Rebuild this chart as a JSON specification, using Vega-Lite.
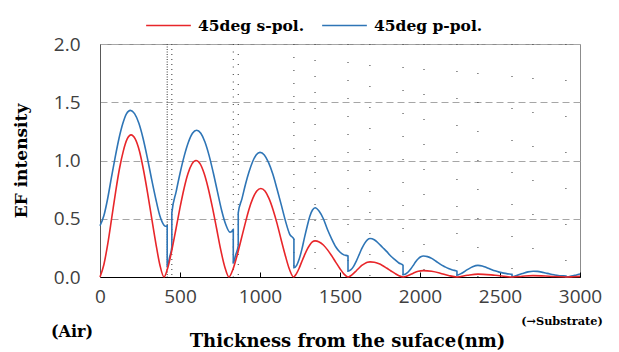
{
  "$schema": "https://vega.github.io/schema/vega-lite/v6.json",
  "width": 480,
  "height": 233,
  "autosize": {"type": "none"},
  "padding": {"left": 100, "top": 44, "right": 39, "bottom": 75},
  "background": "white",
  "config": {
    "view": {"stroke": "#8c8c8c", "strokeWidth": 1},
    "axis": {"labelFont": "Open Sans", "labelFontSize": 19, "labelColor": "#404040", "titleFont": "DejaVu Serif", "titleFontWeight": "bold", "titleColor": "#000"}
  },
  "datasets": {
    "bounds": [
      {"k": 1, "x": 420}, {"k": 2, "x": 449}, {"k": 3, "x": 833}, {"k": 4, "x": 864},
      {"k": 5, "x": 1212}, {"k": 6, "x": 1344}, {"k": 7, "x": 1550}, {"k": 8, "x": 1687},
      {"k": 9, "x": 1894}, {"k": 10, "x": 2025}, {"k": 11, "x": 2231}, {"k": 12, "x": 2362},
      {"k": 13, "x": 2575}, {"k": 14, "x": 2706}, {"k": 15, "x": 2912}
    ],
    "curves": [
      {"s": "45deg p-pol.", "x": 0, "y": 0.44}, {"s": "45deg p-pol.", "x": 24, "y": 0.525}, {"s": "45deg p-pol.", "x": 48, "y": 0.674}, {"s": "45deg p-pol.", "x": 71, "y": 0.85}, {"s": "45deg p-pol.", "x": 95, "y": 1.029}, {"s": "45deg p-pol.", "x": 119, "y": 1.191}, {"s": "45deg p-pol.", "x": 143, "y": 1.319}, {"s": "45deg p-pol.", "x": 166, "y": 1.402}, {"s": "45deg p-pol.", "x": 190, "y": 1.43}, {"s": "45deg p-pol.", "x": 216, "y": 1.402}, {"s": "45deg p-pol.", "x": 243, "y": 1.319}, {"s": "45deg p-pol.", "x": 269, "y": 1.191}, {"s": "45deg p-pol.", "x": 295, "y": 1.029}, {"s": "45deg p-pol.", "x": 321, "y": 0.85}, {"s": "45deg p-pol.", "x": 348, "y": 0.674}, {"s": "45deg p-pol.", "x": 374, "y": 0.525}, {"s": "45deg p-pol.", "x": 400, "y": 0.445}, {"s": "45deg p-pol.", "x": 410, "y": 0.435}, {"s": "45deg p-pol.", "x": 420, "y": 0.44},
      {"s": "45deg p-pol.", "x": 420, "y": 0.09}, {"s": "45deg p-pol.", "x": 435, "y": 0.17}, {"s": "45deg p-pol.", "x": 449, "y": 0.26}, {"s": "45deg p-pol.", "x": 449, "y": 0.55},
      {"s": "45deg p-pol.", "x": 476, "y": 0.733}, {"s": "45deg p-pol.", "x": 501, "y": 0.895}, {"s": "45deg p-pol.", "x": 527, "y": 1.042}, {"s": "45deg p-pol.", "x": 553, "y": 1.159}, {"s": "45deg p-pol.", "x": 578, "y": 1.234}, {"s": "45deg p-pol.", "x": 604, "y": 1.26}, {"s": "45deg p-pol.", "x": 630, "y": 1.234}, {"s": "45deg p-pol.", "x": 656, "y": 1.159}, {"s": "45deg p-pol.", "x": 682, "y": 1.042}, {"s": "45deg p-pol.", "x": 708, "y": 0.895}, {"s": "45deg p-pol.", "x": 734, "y": 0.733}, {"s": "45deg p-pol.", "x": 760, "y": 0.573}, {"s": "45deg p-pol.", "x": 786, "y": 0.45}, {"s": "45deg p-pol.", "x": 812, "y": 0.385}, {"s": "45deg p-pol.", "x": 823, "y": 0.39}, {"s": "45deg p-pol.", "x": 833, "y": 0.41},
      {"s": "45deg p-pol.", "x": 833, "y": 0.12}, {"s": "45deg p-pol.", "x": 848, "y": 0.19}, {"s": "45deg p-pol.", "x": 864, "y": 0.27}, {"s": "45deg p-pol.", "x": 864, "y": 0.55},
      {"s": "45deg p-pol.", "x": 887, "y": 0.671}, {"s": "45deg p-pol.", "x": 909, "y": 0.794}, {"s": "45deg p-pol.", "x": 932, "y": 0.905}, {"s": "45deg p-pol.", "x": 955, "y": 0.994}, {"s": "45deg p-pol.", "x": 977, "y": 1.05}, {"s": "45deg p-pol.", "x": 1000, "y": 1.07}, {"s": "45deg p-pol.", "x": 1027, "y": 1.048}, {"s": "45deg p-pol.", "x": 1053, "y": 0.984}, {"s": "45deg p-pol.", "x": 1080, "y": 0.884}, {"s": "45deg p-pol.", "x": 1106, "y": 0.758}, {"s": "45deg p-pol.", "x": 1133, "y": 0.619}, {"s": "45deg p-pol.", "x": 1159, "y": 0.482}, {"s": "45deg p-pol.", "x": 1186, "y": 0.366}, {"s": "45deg p-pol.", "x": 1212, "y": 0.325},
      {"s": "45deg p-pol.", "x": 1212, "y": 0.08}, {"s": "45deg p-pol.", "x": 1229, "y": 0.1}, {"s": "45deg p-pol.", "x": 1245, "y": 0.155}, {"s": "45deg p-pol.", "x": 1262, "y": 0.239}, {"s": "45deg p-pol.", "x": 1278, "y": 0.338}, {"s": "45deg p-pol.", "x": 1295, "y": 0.436}, {"s": "45deg p-pol.", "x": 1311, "y": 0.52}, {"s": "45deg p-pol.", "x": 1328, "y": 0.575}, {"s": "45deg p-pol.", "x": 1344, "y": 0.595}, {"s": "45deg p-pol.", "x": 1370, "y": 0.565}, {"s": "45deg p-pol.", "x": 1396, "y": 0.5}, {"s": "45deg p-pol.", "x": 1421, "y": 0.41}, {"s": "45deg p-pol.", "x": 1447, "y": 0.33}, {"s": "45deg p-pol.", "x": 1473, "y": 0.26}, {"s": "45deg p-pol.", "x": 1499, "y": 0.215}, {"s": "45deg p-pol.", "x": 1524, "y": 0.19}, {"s": "45deg p-pol.", "x": 1550, "y": 0.18},
      {"s": "45deg p-pol.", "x": 1550, "y": 0.05}, {"s": "45deg p-pol.", "x": 1567, "y": 0.061}, {"s": "45deg p-pol.", "x": 1585, "y": 0.091}, {"s": "45deg p-pol.", "x": 1602, "y": 0.137}, {"s": "45deg p-pol.", "x": 1619, "y": 0.19}, {"s": "45deg p-pol.", "x": 1636, "y": 0.243}, {"s": "45deg p-pol.", "x": 1654, "y": 0.289}, {"s": "45deg p-pol.", "x": 1671, "y": 0.319}, {"s": "45deg p-pol.", "x": 1688, "y": 0.33}, {"s": "45deg p-pol.", "x": 1714, "y": 0.32}, {"s": "45deg p-pol.", "x": 1740, "y": 0.29}, {"s": "45deg p-pol.", "x": 1765, "y": 0.255}, {"s": "45deg p-pol.", "x": 1791, "y": 0.22}, {"s": "45deg p-pol.", "x": 1817, "y": 0.18}, {"s": "45deg p-pol.", "x": 1843, "y": 0.15}, {"s": "45deg p-pol.", "x": 1868, "y": 0.12}, {"s": "45deg p-pol.", "x": 1894, "y": 0.1},
      {"s": "45deg p-pol.", "x": 1894, "y": 0.02}, {"s": "45deg p-pol.", "x": 1910, "y": 0.026}, {"s": "45deg p-pol.", "x": 1926, "y": 0.043}, {"s": "45deg p-pol.", "x": 1942, "y": 0.069}, {"s": "45deg p-pol.", "x": 1958, "y": 0.1}, {"s": "45deg p-pol.", "x": 1973, "y": 0.131}, {"s": "45deg p-pol.", "x": 1989, "y": 0.157}, {"s": "45deg p-pol.", "x": 2005, "y": 0.174}, {"s": "45deg p-pol.", "x": 2021, "y": 0.18}, {"s": "45deg p-pol.", "x": 2047, "y": 0.175}, {"s": "45deg p-pol.", "x": 2073, "y": 0.16}, {"s": "45deg p-pol.", "x": 2100, "y": 0.135}, {"s": "45deg p-pol.", "x": 2126, "y": 0.11}, {"s": "45deg p-pol.", "x": 2152, "y": 0.09}, {"s": "45deg p-pol.", "x": 2178, "y": 0.072}, {"s": "45deg p-pol.", "x": 2205, "y": 0.06}, {"s": "45deg p-pol.", "x": 2231, "y": 0.05},
      {"s": "45deg p-pol.", "x": 2231, "y": 0.015}, {"s": "45deg p-pol.", "x": 2264, "y": 0.035}, {"s": "45deg p-pol.", "x": 2296, "y": 0.063}, {"s": "45deg p-pol.", "x": 2329, "y": 0.088}, {"s": "45deg p-pol.", "x": 2362, "y": 0.1}, {"s": "45deg p-pol.", "x": 2389, "y": 0.095}, {"s": "45deg p-pol.", "x": 2415, "y": 0.082}, {"s": "45deg p-pol.", "x": 2442, "y": 0.067}, {"s": "45deg p-pol.", "x": 2468, "y": 0.053}, {"s": "45deg p-pol.", "x": 2495, "y": 0.042}, {"s": "45deg p-pol.", "x": 2522, "y": 0.033}, {"s": "45deg p-pol.", "x": 2548, "y": 0.027}, {"s": "45deg p-pol.", "x": 2575, "y": 0.023},
      {"s": "45deg p-pol.", "x": 2575, "y": 0.002}, {"s": "45deg p-pol.", "x": 2608, "y": 0.014}, {"s": "45deg p-pol.", "x": 2641, "y": 0.03}, {"s": "45deg p-pol.", "x": 2675, "y": 0.044}, {"s": "45deg p-pol.", "x": 2708, "y": 0.05}, {"s": "45deg p-pol.", "x": 2734, "y": 0.048}, {"s": "45deg p-pol.", "x": 2760, "y": 0.042}, {"s": "45deg p-pol.", "x": 2786, "y": 0.034}, {"s": "45deg p-pol.", "x": 2812, "y": 0.026}, {"s": "45deg p-pol.", "x": 2838, "y": 0.019}, {"s": "45deg p-pol.", "x": 2864, "y": 0.013}, {"s": "45deg p-pol.", "x": 2890, "y": 0.01}, {"s": "45deg p-pol.", "x": 2912, "y": 0.008},
      {"s": "45deg p-pol.", "x": 2912, "y": 0.0}, {"s": "45deg p-pol.", "x": 2934, "y": 0.004}, {"s": "45deg p-pol.", "x": 2956, "y": 0.01}, {"s": "45deg p-pol.", "x": 2978, "y": 0.018}, {"s": "45deg p-pol.", "x": 3000, "y": 0.025},
      {"s": "45deg s-pol.", "x": 0, "y": 0}, {"s": "45deg s-pol.", "x": 24, "y": 0.105}, {"s": "45deg s-pol.", "x": 49, "y": 0.289}, {"s": "45deg s-pol.", "x": 73, "y": 0.505}, {"s": "45deg s-pol.", "x": 97, "y": 0.725}, {"s": "45deg s-pol.", "x": 121, "y": 0.925}, {"s": "45deg s-pol.", "x": 146, "y": 1.083}, {"s": "45deg s-pol.", "x": 170, "y": 1.185}, {"s": "45deg s-pol.", "x": 194, "y": 1.22}, {"s": "45deg s-pol.", "x": 220, "y": 1.185}, {"s": "45deg s-pol.", "x": 246, "y": 1.083}, {"s": "45deg s-pol.", "x": 271, "y": 0.925}, {"s": "45deg s-pol.", "x": 297, "y": 0.725}, {"s": "45deg s-pol.", "x": 323, "y": 0.505}, {"s": "45deg s-pol.", "x": 349, "y": 0.289}, {"s": "45deg s-pol.", "x": 374, "y": 0.105}, {"s": "45deg s-pol.", "x": 400, "y": 0},
      {"s": "45deg s-pol.", "x": 425, "y": 0.086}, {"s": "45deg s-pol.", "x": 450, "y": 0.237}, {"s": "45deg s-pol.", "x": 475, "y": 0.414}, {"s": "45deg s-pol.", "x": 500, "y": 0.595}, {"s": "45deg s-pol.", "x": 525, "y": 0.758}, {"s": "45deg s-pol.", "x": 550, "y": 0.888}, {"s": "45deg s-pol.", "x": 575, "y": 0.971}, {"s": "45deg s-pol.", "x": 600, "y": 1.0}, {"s": "45deg s-pol.", "x": 626, "y": 0.971}, {"s": "45deg s-pol.", "x": 651, "y": 0.888}, {"s": "45deg s-pol.", "x": 677, "y": 0.758}, {"s": "45deg s-pol.", "x": 703, "y": 0.595}, {"s": "45deg s-pol.", "x": 729, "y": 0.414}, {"s": "45deg s-pol.", "x": 754, "y": 0.237}, {"s": "45deg s-pol.", "x": 780, "y": 0.086}, {"s": "45deg s-pol.", "x": 806, "y": 0},
      {"s": "45deg s-pol.", "x": 831, "y": 0.066}, {"s": "45deg s-pol.", "x": 856, "y": 0.18}, {"s": "45deg s-pol.", "x": 881, "y": 0.315}, {"s": "45deg s-pol.", "x": 906, "y": 0.452}, {"s": "45deg s-pol.", "x": 930, "y": 0.576}, {"s": "45deg s-pol.", "x": 955, "y": 0.675}, {"s": "45deg s-pol.", "x": 980, "y": 0.738}, {"s": "45deg s-pol.", "x": 1005, "y": 0.76}, {"s": "45deg s-pol.", "x": 1031, "y": 0.738}, {"s": "45deg s-pol.", "x": 1056, "y": 0.675}, {"s": "45deg s-pol.", "x": 1082, "y": 0.576}, {"s": "45deg s-pol.", "x": 1108, "y": 0.452}, {"s": "45deg s-pol.", "x": 1133, "y": 0.315}, {"s": "45deg s-pol.", "x": 1159, "y": 0.18}, {"s": "45deg s-pol.", "x": 1184, "y": 0.066}, {"s": "45deg s-pol.", "x": 1210, "y": 0},
      {"s": "45deg s-pol.", "x": 1227, "y": 0.027}, {"s": "45deg s-pol.", "x": 1244, "y": 0.073}, {"s": "45deg s-pol.", "x": 1260, "y": 0.128}, {"s": "45deg s-pol.", "x": 1277, "y": 0.184}, {"s": "45deg s-pol.", "x": 1294, "y": 0.235}, {"s": "45deg s-pol.", "x": 1311, "y": 0.275}, {"s": "45deg s-pol.", "x": 1327, "y": 0.301}, {"s": "45deg s-pol.", "x": 1344, "y": 0.31}, {"s": "45deg s-pol.", "x": 1370, "y": 0.301}, {"s": "45deg s-pol.", "x": 1396, "y": 0.275}, {"s": "45deg s-pol.", "x": 1421, "y": 0.235}, {"s": "45deg s-pol.", "x": 1447, "y": 0.184}, {"s": "45deg s-pol.", "x": 1473, "y": 0.128}, {"s": "45deg s-pol.", "x": 1499, "y": 0.073}, {"s": "45deg s-pol.", "x": 1524, "y": 0.027}, {"s": "45deg s-pol.", "x": 1550, "y": 0},
      {"s": "45deg s-pol.", "x": 1567, "y": 0.011}, {"s": "45deg s-pol.", "x": 1585, "y": 0.031}, {"s": "45deg s-pol.", "x": 1602, "y": 0.054}, {"s": "45deg s-pol.", "x": 1619, "y": 0.077}, {"s": "45deg s-pol.", "x": 1636, "y": 0.099}, {"s": "45deg s-pol.", "x": 1654, "y": 0.115}, {"s": "45deg s-pol.", "x": 1671, "y": 0.126}, {"s": "45deg s-pol.", "x": 1688, "y": 0.13}, {"s": "45deg s-pol.", "x": 1714, "y": 0.126}, {"s": "45deg s-pol.", "x": 1740, "y": 0.115}, {"s": "45deg s-pol.", "x": 1765, "y": 0.099}, {"s": "45deg s-pol.", "x": 1791, "y": 0.077}, {"s": "45deg s-pol.", "x": 1817, "y": 0.054}, {"s": "45deg s-pol.", "x": 1843, "y": 0.031}, {"s": "45deg s-pol.", "x": 1868, "y": 0.011}, {"s": "45deg s-pol.", "x": 1894, "y": 0},
      {"s": "45deg s-pol.", "x": 1926, "y": 0.013}, {"s": "45deg s-pol.", "x": 1958, "y": 0.033}, {"s": "45deg s-pol.", "x": 1989, "y": 0.049}, {"s": "45deg s-pol.", "x": 2021, "y": 0.055}, {"s": "45deg s-pol.", "x": 2073, "y": 0.049}, {"s": "45deg s-pol.", "x": 2126, "y": 0.033}, {"s": "45deg s-pol.", "x": 2178, "y": 0.013}, {"s": "45deg s-pol.", "x": 2231, "y": 0},
      {"s": "45deg s-pol.", "x": 2296, "y": 0.015}, {"s": "45deg s-pol.", "x": 2362, "y": 0.025}, {"s": "45deg s-pol.", "x": 2468, "y": 0.015}, {"s": "45deg s-pol.", "x": 2575, "y": 0},
      {"s": "45deg s-pol.", "x": 2640, "y": 0.007}, {"s": "45deg s-pol.", "x": 2706, "y": 0.012}, {"s": "45deg s-pol.", "x": 2809, "y": 0.007}, {"s": "45deg s-pol.", "x": 2912, "y": 0},
      {"s": "45deg s-pol.", "x": 2956, "y": 0.002}, {"s": "45deg s-pol.", "x": 3000, "y": 0.005}
    ]
  },
  "layer": [
    {
      "data": {"name": "bounds"},
      "mark": {"type": "rule", "color": "#333333", "strokeWidth": 1},
      "encoding": {
        "x": {"field": "x", "type": "quantitative", "scale": {"domain": [0, 3000], "nice": false},
          "axis": {"title": "Thickness from the suface(nm)", "values": [0, 500, 1000, 1500, 2000, 2500, 3000], "format": "d", "grid": false, "tickSize": -5, "tickColor": "#000", "domainColor": "#000", "labelPadding": 15, "labelFlush": false, "titleFontSize": 18, "titlePadding": 26, "titleX": 247}},
        "strokeDash": {"field": "k", "type": "ordinal", "legend": null,
          "scale": {"range": [[1, 1.5], [1, 4], [1, 6.5], [1, 9], [1, 12], [1, 15], [1, 17], [1, 20], [1, 22], [1, 24], [1, 26], [1, 28], [1, 31], [1, 33], [1, 35]]}}
      }
    },
    {
      "data": {"name": "curves"},
      "mark": {"type": "line", "strokeWidth": 1.6, "interpolate": "monotone"},
      "encoding": {
        "x": {"field": "x", "type": "quantitative", "scale": {"domain": [0, 3000], "nice": false},
          "axis": {"title": "Thickness from the suface(nm)", "values": [0, 500, 1000, 1500, 2000, 2500, 3000], "format": "d", "grid": false, "tickSize": -5, "tickColor": "#000", "domainColor": "#000", "labelPadding": 15, "labelFlush": false, "titleFontSize": 18, "titlePadding": 26, "titleX": 247}},
        "y": {"field": "y", "type": "quantitative", "scale": {"domain": [0, 2], "nice": false},
          "axis": {"title": "EF intensity", "values": [0, 0.5, 1, 1.5, 2], "format": ".1f", "grid": true, "gridDash": [7, 4], "gridColor": "#a6a6a6", "ticks": false, "domainColor": "#595959", "labelPadding": 20, "titleFontSize": 17, "titlePadding": 23}},
        "color": {"field": "s", "type": "nominal",
          "scale": {"domain": ["45deg s-pol.", "45deg p-pol."], "range": ["#e8262a", "#2e75b6"]},
          "legend": {"title": null, "orient": "none", "direction": "horizontal", "legendX": 45, "legendY": -42, "symbolType": "stroke", "symbolSize": 2000, "symbolStrokeWidth": 1.5, "labelFont": "DejaVu Serif", "labelFontWeight": "bold", "labelFontSize": 15.5, "labelColor": "#000", "labelOffset": 6, "columnPadding": 14, "padding": 0}},
        "order": {"value": null}
      }
    },
    {
      "data": {"values": [{}]},
      "mark": {"type": "text", "text": "(Air)", "font": "DejaVu Serif", "fontWeight": "bold", "fontSize": 16, "align": "center", "baseline": "middle", "dx": -28, "dy": 55, "color": "#000"},
      "encoding": {"x": {"datum": 0, "type": "quantitative"}, "y": {"datum": 0, "type": "quantitative"}}
    },
    {
      "data": {"values": [{}]},
      "mark": {"type": "text", "text": "(→Substrate)", "font": "DejaVu Serif", "fontWeight": "bold", "fontSize": 11.3, "align": "center", "baseline": "middle", "dx": -18, "dy": 45, "color": "#000"},
      "encoding": {"x": {"datum": 3000, "type": "quantitative"}, "y": {"datum": 0, "type": "quantitative"}}
    }
  ]
}
